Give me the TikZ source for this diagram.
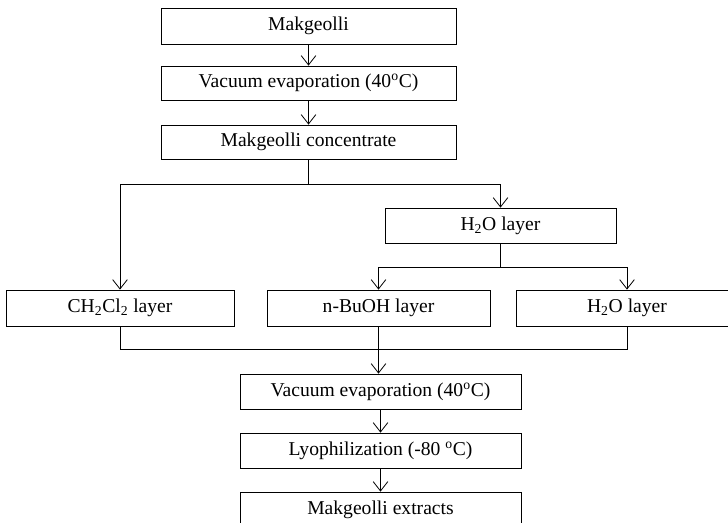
\documentclass[tikz,border=0pt]{standalone}
\usepackage{fontspec}
\setmainfont{Liberation Serif}
\usetikzlibrary{arrows.meta}

\tikzset{
  stepbox/.style={draw, line width=0.6pt, inner sep=0pt, minimum height=26.25pt,
    font=\fontsize{14.7}{17}\selectfont},
  arr/.style={line width=0.6pt, -{Straight Barb[length=7pt,width=11pt,line width=0.6pt]}},
  lin/.style={line width=0.6pt}
}

\begin{document}
\begin{tikzpicture}[x=0.75pt,y=0.75pt,yscale=-1,xscale=1]
    \useasboundingbox (0,0) rectangle (728,523);
    % Shape: Rectangle + Text Node
    \node (mak)  [stepbox, minimum width=221.25pt, minimum height=27pt] at (308.5,26) {Makgeolli};
    \node (vac1) [stepbox, minimum width=221.25pt, minimum height=25.5pt] at (308.5,83) {Vacuum evaporation (40\textsuperscript{o}C)};
    \node (conc) [stepbox, minimum width=221.25pt, minimum height=25.5pt] at (308.5,142) {Makgeolli concentrate};
    \node (wat1) [stepbox, minimum width=173.25pt] at (500.5,225.5) {H\textsubscript{2}O layer};
    \node (dcm)  [stepbox, minimum width=171pt, minimum height=27pt] at (120,308) {CH\textsubscript{2}Cl\textsubscript{2} layer};
    \node (buoh) [stepbox, minimum width=167.25pt, minimum height=27pt] at (378.5,308) {n-BuOH layer};
    \node (wat2) [stepbox, minimum width=166.5pt, minimum height=27pt] at (627,308) {H\textsubscript{2}O layer};
    \node (vac2) [stepbox, minimum width=210.75pt] at (380.5,391.5) {Vacuum evaporation (40\textsuperscript{o}C)};
    \node (lyo)  [stepbox, minimum width=210.75pt] at (380.5,450.5) {Lyophilization (-80 \textsuperscript{o}C)};
    \node (ext)  [stepbox, minimum width=210.75pt, minimum height=27pt] at (380.5,510) {Makgeolli extracts};

    % Junctions
    \coordinate (split) at (308.5,184);
    \coordinate (split2) at (500.5,267);
    \coordinate (join) at (378.5,349);

    % Straight Lines
    \draw [arr] (mak) -- (vac1);
    \draw [arr] (vac1) -- (conc);
    \draw [lin] (conc) -- (split);
    \draw [arr] (split) -| (dcm);
    \draw [arr] (split) -| (wat1);
    \draw [lin] (wat1) -- (split2);
    \draw [arr] (split2) -| (buoh);
    \draw [arr] (split2) -| (wat2);
    \draw [lin] (dcm.south) |- (join);
    \draw [lin] (wat2.south) |- (join);
    \draw [lin] (buoh) -- (join);
    \draw [arr] (join) -- (join |- vac2.north);
    \draw [arr] (vac2) -- (lyo);
    \draw [arr] (lyo) -- (ext);
\end{tikzpicture}
\end{document}
